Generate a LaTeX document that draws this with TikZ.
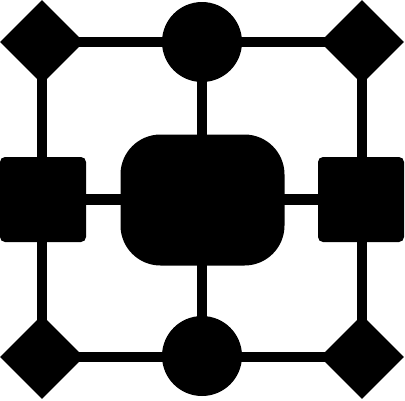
\documentclass[tikz,border=0pt]{standalone}
\usetikzlibrary{shapes.geometric}
\begin{document}
\begin{tikzpicture}[x=1pt,y=-1pt,
  link/.style={line width=10.5pt},
  dia/.style={diamond,fill=black,minimum width=84pt,minimum height=84pt,inner sep=0pt},
  circ/.style={circle,fill=black,minimum size=80pt,inner sep=0pt},
  sq/.style={rectangle,fill=black,rounded corners=5pt,minimum width=86pt,minimum height=85pt,inner sep=0pt},
  hub/.style={rectangle,fill=black,rounded corners=40pt,minimum width=164pt,minimum height=131pt,inner sep=0pt}]
\useasboundingbox (0,0) rectangle (405,400);
\node[dia] (tl) at (42,42) {};
\node[dia] (tr) at (362,42) {};
\node[dia] (bl) at (42,357) {};
\node[dia] (br) at (362,357) {};
\node[circ] (tc) at (202,42) {};
\node[circ] (bc) at (202,356) {};
\node[sq] (ls) at (43,199.5) {};
\node[sq] (rs) at (361,199.5) {};
\node[hub] (c) at (202.5,200) {};
\begin{scope}[on background layer/.try]
\end{scope}
\draw[link] (tl.center) -- (tr.center);
\draw[link] (bl.center) -- (br.center);
\draw[link] (tl.center) -- (bl.center);
\draw[link] (tr.center) -- (br.center);
\draw[link] (tc.center) -- (bc.center);
\draw[link] (ls.center) -- (rs.center);
\end{tikzpicture}
\end{document}
